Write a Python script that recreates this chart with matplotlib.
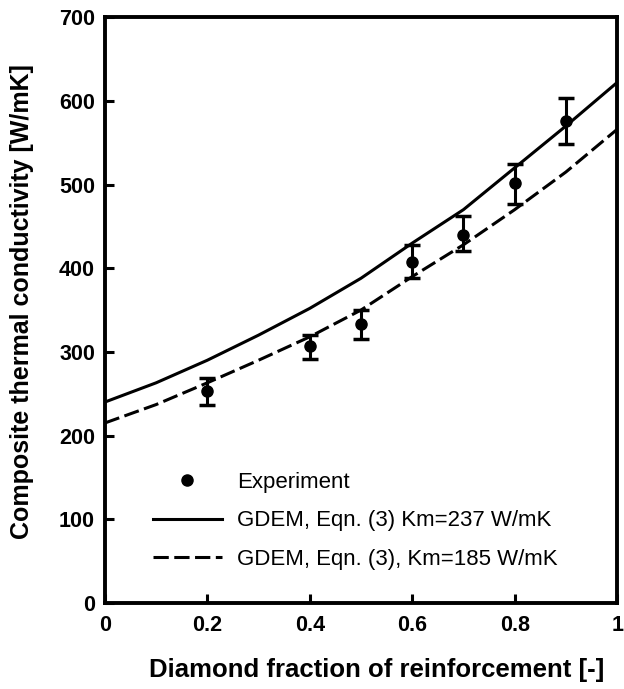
import numpy as np
import matplotlib
matplotlib.use('Agg')
import matplotlib.pyplot as plt

plt.rcParams['font.family'] = ['Liberation Sans', 'DejaVu Sans']

# experiment
frac = [0.2, 0.4, 0.5, 0.6, 0.7, 0.8, 0.9]
k_exp = [253, 307, 333, 408, 440, 502, 576]
err_lo = [16, 15, 18, 20, 20, 25, 28]
err_hi = [16, 13, 17, 20, 22, 23, 28]

# GDEM model curves
x_model = [0.0, 0.1, 0.2, 0.3, 0.4, 0.5, 0.6, 0.7, 0.8, 0.9, 1.0]
k_237 = [240, 263, 290, 320, 352, 388, 430, 470, 520, 570, 622]
k_185 = [215, 237, 263, 290, 318, 350, 390, 428, 470, 515, 566]

fig = plt.figure(figsize=(6.24, 6.89), dpi=100)
ax = fig.add_axes([0.168, 0.125, 0.821, 0.85])

ax.plot(x_model, k_237, '-', color='black', lw=2.2,
        label='GDEM, Eqn. (3) Km=237 W/mK')
ax.plot(x_model, k_185, '--', color='black', lw=2.2, dashes=(5, 1.8),
        label='GDEM, Eqn. (3), Km=185 W/mK')
ax.errorbar(frac, k_exp, yerr=[err_lo, err_hi], fmt='none', ecolor='black',
            elinewidth=2.2, capsize=6, capthick=2.5)
ax.plot(frac, k_exp, 'o', color='black', ms=8, ls='none', label='Experiment')

ax.set_xlim(0, 1)
ax.set_ylim(0, 700)
ax.set_xticks([0, 0.2, 0.4, 0.6, 0.8, 1])
ax.set_xticklabels(['0', '0.2', '0.4', '0.6', '0.8', '1'])
ax.set_yticks(range(0, 701, 100))
ax.tick_params(direction='in', length=6.5, width=2.2, labelsize=15.5)
ax.tick_params(axis='x', pad=9)
ax.tick_params(axis='y', pad=7)
for lab in ax.get_xticklabels() + ax.get_yticklabels():
    lab.set_fontweight('bold')
for s in ax.spines.values():
    s.set_linewidth(2.8)

ax.set_xlabel('Diamond fraction of reinforcement [-]', fontsize=18.5,
              fontweight='bold')
ax.set_ylabel('Composite thermal conductivity [W/mK]', fontsize=18,
              fontweight='bold')
ax.xaxis.set_label_coords(0.53, -0.094)
ax.yaxis.set_label_coords(-0.139, 0.514)

h, l = ax.get_legend_handles_labels()
order = [2, 0, 1]
ax.legend([h[i] for i in order], [l[i] for i in order], frameon=False,
          loc='upper left', bbox_to_anchor=(0.094, 0.2235), fontsize=16,
          borderpad=0, borderaxespad=0,
          handlelength=3.1, labelspacing=0.78, handletextpad=0.7)

fig.savefig('out.png', dpi=100)
